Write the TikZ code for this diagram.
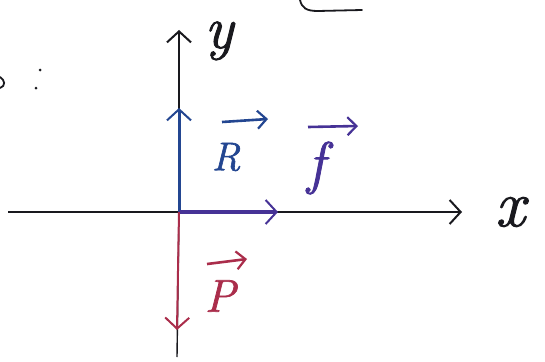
\documentclass[tikz,border=0pt]{standalone}
\usepackage{fontspec}
\newfontfamily\hand[FakeBold=1.5]{Latin Modern Roman}
\usetikzlibrary{arrows.meta}
\definecolor{ink}{RGB}{25,25,30}
\definecolor{rblue}{RGB}{35,70,145}
\definecolor{fpurple}{RGB}{70,50,150}
\definecolor{pred}{RGB}{170,45,75}
\tikzset{
  tip/.style={-{Straight Barb[length=11pt,width=24pt,line width=2pt]}},
  smalltip/.style={-{Straight Barb[length=9pt,width=18pt,line width=2.2pt]}},
  axis/.style={ink,line width=1.4pt,tip},
  lbl/.style={inner sep=0pt},
  overarrow/.style={line width=2.6pt,smalltip},
}
\begin{document}
\begin{tikzpicture}[x=1pt,y=-1pt]
\useasboundingbox (0,0) rectangle (545,361);
% axes
\coordinate (O) at (179,212);
\coordinate (xl) at (8,212);
\coordinate (xr) at (462,212);
\coordinate (yb) at (177,357);
\coordinate (yt) at (179,30);
\draw[ink,line width=1.4pt] (xl) -- (O);
\draw[axis] (O) -- (xr);
\draw[ink,line width=1.4pt] (yb) -- (O);
\draw[axis] (O) -- (yt);
\node[lbl,ink,font=\fontsize{60}{60}\selectfont\hand\itshape,anchor=base] (ylab) at (219,48) {y};
\node[lbl,ink,font=\fontsize{66}{66}\selectfont\hand\itshape] (xlab) at (510,212) {x};
% vectors
\coordinate (Rend) at (179,108);
\coordinate (fend) at (278,212);
\coordinate (Pend) at (177,330);
\draw[rblue,line width=3pt,tip] (O) -- (Rend);
\draw[fpurple,line width=4pt,tip] (O) -- (fend);
\draw[pred,line width=2pt,tip] (O) -- (Pend);
% labels
\node[lbl,rblue,font=\fontsize{40}{40}\selectfont\hand\itshape] (R) at (226,157) {R};
\coordinate (Ra) at (222,122);
\coordinate (Rb) at (268,119);
\draw[overarrow,rblue] (Ra) -- (Rb);
\node[lbl,fpurple,font=\fontsize{58}{58}\selectfont\hand\itshape] (f) at (316,168) {f};
\coordinate (fa) at (308,127);
\coordinate (fb) at (358,126);
\draw[overarrow,fpurple] (fa) -- (fb);
\node[lbl,pred,font=\fontsize{46}{46}\selectfont\hand\itshape] (P) at (220,296) {P};
\coordinate (Pa) at (207,264);
\coordinate (Pb) at (247,259);
\draw[overarrow,pred] (Pa) -- (Pb);
% cut-off fragments at the edges
\draw[ink,line width=1.8pt,line cap=round] (300,0) .. controls (302,8) and (306,11) .. (318,11) -- (362,10);
\draw[ink,line width=1.8pt,line cap=round] (0,77) .. controls (5,80) and (6,86) .. (0,88);
\fill[ink] (40,70) circle (1.5) (36,88) circle (1.5);
\end{tikzpicture}
\end{document}
